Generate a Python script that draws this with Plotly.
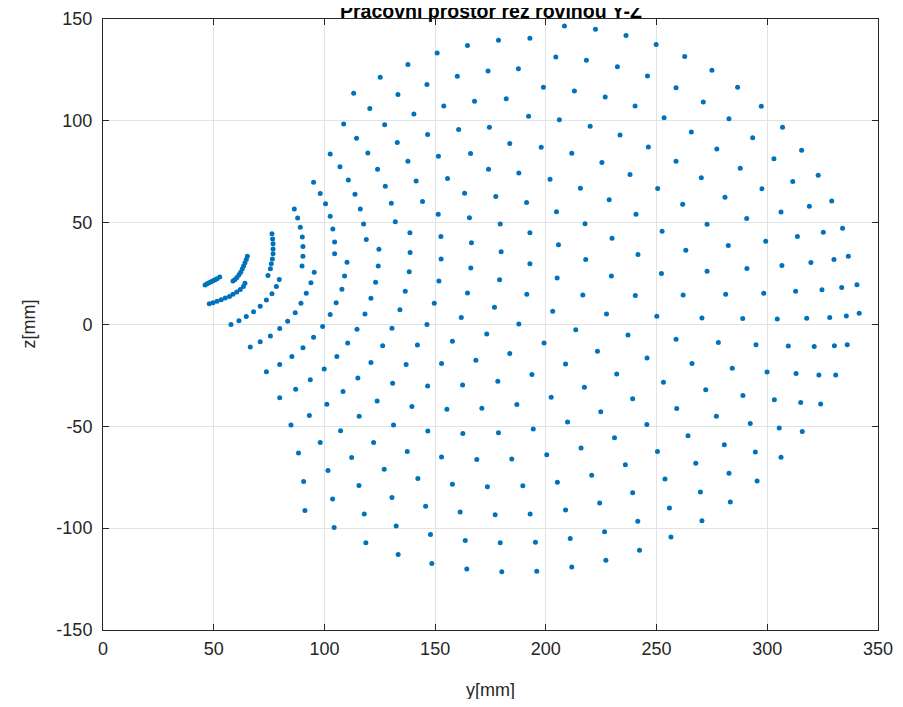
import plotly.graph_objects as go

# workspace points: y [mm]
y_mm = [
    113.2, 108.7, 114.5, 102.6, 107.0, 95.1, 110.8, 98.1, 113.8, 100.5,
    150.9, 164.6, 178.6, 137.7, 125.2, 146.3, 160.0, 173.9, 187.6, 133.2, 120.5, 140.4, 153.9, 167.8, 182.1,
    127.2, 160.6, 174.5, 146.6, 132.9, 183.7, 119.6, 166.0, 137.7, 151.5, 124.0, 174.1, 187.8, 141.4, 155.6,
    127.5, 163.3, 177.4, 144.3, 130.2,
    208.4, 222.4, 192.8, 236.2, 249.8, 204.5, 218.3, 232.3, 245.9, 198.9, 212.9, 226.8, 258.8, 240.3, 192.2,
    206.1, 253.4, 220.0, 233.5, 197.9, 246.3, 211.7, 225.3, 258.8, 201.9, 238.0, 215.6, 250.5, 191.3, 228.6,
    262.7, 275.0, 286.6, 271.1, 297.3, 282.7, 265.7, 306.9, 293.4, 277.2, 315.5, 303.0, 287.8, 323.0, 270.2,
    311.5, 297.6, 280.9, 329.1, 261.8,
    46.1, 47.0, 47.9, 48.8, 49.7, 50.6, 51.5, 52.7,
    58.7, 59.6, 60.5, 61.4, 62.2, 62.9, 63.5, 64.1, 64.7, 65.2,
    48.0, 49.7, 51.5, 53.4, 55.2, 57.1, 58.7, 60.4, 62.0, 63.4, 64.1,
    76.3, 76.6, 76.8, 76.8, 76.8, 76.5, 76.0, 75.6, 74.5,
    79.6, 78.3, 76.3, 73.8, 71.0, 68.0, 64.7, 61.4, 57.8,
    86.4, 87.9, 89.1, 90.0, 90.3, 90.3, 89.9,
    95.4, 93.9, 91.8, 89.4, 86.8, 83.4, 79.8, 75.6, 71.0, 66.5,
    102.6, 103.8, 104.6, 104.6,
    110.2, 109.1, 107.9, 105.3, 102.6, 99.2, 95.1, 90.3, 85.3, 79.8, 73.8,
    114.7, 110.5, 105.6, 99.9, 93.6, 87.0, 115.1, 108.4,
    116.2, 151.4, 165.5, 117.7, 132.0, 179.4, 138.6, 152.6, 118.9, 166.4, 124.6, 138.7, 179.8, 152.7, 124.3,
    166.1, 138.3, 123.1, 151.7, 179.1, 136.5, 164.6, 121.0, 149.6, 176.8, 134.1, 118.3, 161.8, 146.3, 130.5,
    187.8, 173.3, 126.3, 142.0, 157.8, 183.7, 121.0, 136.9, 152.9, 168.4, 130.8, 146.6, 162.4, 178.3,
    204.8, 240.7, 217.7, 192.8, 252.5, 229.9, 205.7, 241.6, 218.0, 192.8, 229.6, 252.2, 205.1, 191.4, 216.7,
    240.4, 203.1, 227.4, 250.1, 213.5, 237.1, 258.8, 199.2, 223.3, 245.7, 208.9, 193.7, 232.0, 253.1, 217.4,
    290.7, 306.2, 319.0, 272.8, 299.3, 313.6, 325.3, 334.0, 263.2, 282.4, 319.7, 330.1, 336.6, 272.8, 290.8,
    306.6, 262.0, 281.2, 298.4, 312.8, 324.7, 333.6, 270.5, 288.9, 304.5, 317.8, 328.2, 335.7, 277.9, 294.9,
    309.5, 321.2, 330.3, 336.1, 266.0, 284.2, 299.9, 313.0, 323.3, 330.9, 272.2,
    340.5, 341.5,
    79.8, 101.1, 93.2, 84.9, 107.3, 98.1, 88.3, 112.3, 101.6, 90.6, 103.7, 91.2, 104.4,
    115.7, 115.6, 123.8, 139.5, 155.3, 171.1, 186.9, 131.2, 146.7, 162.5, 178.6, 122.2, 137.4, 152.9, 168.8,
    184.6, 127.0, 142.2, 157.8, 173.6, 130.5, 145.7, 161.3, 177.1, 118.0, 132.4, 147.9, 163.6, 179.4, 118.7,
    133.3, 148.5, 164.3, 180.1,
    202.4, 239.2, 224.8, 259.1, 209.8, 245.6, 194.3, 231.0, 215.9, 250.4, 200.4, 235.9, 220.7, 253.8, 189.6,
    205.2, 239.2, 224.3, 255.8, 208.9, 192.9, 241.5, 226.5, 256.5, 195.3, 211.0, 242.3, 227.1, 211.7, 195.9,
    289.0, 303.2, 315.1, 324.1, 277.0, 292.3, 305.4, 315.8, 264.2, 280.6, 294.6, 306.2, 267.7, 282.7, 295.4,
    269.8, 283.3, 270.5,
]

# workspace points: z [mm]
z_mm = [
    113.5, 98.4, 91.4, 83.7, 77.5, 69.9, 70.9, 64.3, 63.9, 59.3,
    133.3, 137.0, 139.6, 127.7, 121.4, 117.9, 121.9, 124.5, 125.6, 112.9, 106.0, 103.3, 107.3, 109.6, 110.9,
    98.1, 95.8, 96.9, 93.3, 89.4, 88.9, 84.2, 83.9, 80.1, 82.6, 76.2, 76.2, 74.4, 70.5, 71.7,
    67.9, 64.5, 62.9, 60.4, 59.5,
    146.6, 145.0, 140.6, 141.9, 137.5, 131.3, 129.7, 126.6, 122.0, 116.5, 114.7, 111.7, 116.3, 107.3, 102.3,
    100.5, 101.5, 97.4, 93.0, 87.0, 87.1, 84.1, 79.5, 80.1, 71.3, 73.6, 66.9, 66.8, 59.9, 61.2,
    131.6, 124.8, 116.5, 109.3, 107.2, 101.0, 94.5, 96.8, 91.7, 86.2, 85.5, 81.4, 76.7, 73.3, 72.0,
    70.2, 66.6, 62.5, 60.6, 59.1,
    19.4, 20.0, 20.5, 21.0, 21.5, 22.0, 22.5, 23.3,
    21.3, 22.1, 23.1, 24.4, 25.7, 27.2, 28.7, 30.3, 31.9, 33.5,
    10.2, 10.7, 11.4, 12.2, 13.0, 13.8, 14.8, 15.9, 17.2, 18.7, 20.2,
    44.5, 42.0, 39.6, 37.1, 34.7, 32.2, 29.8, 27.4, 24.1,
    22.1, 18.6, 15.1, 12.0, 8.9, 6.3, 3.9, 1.8, 0.0,
    56.7, 52.3, 47.7, 43.0, 38.3, 33.5, 28.7,
    25.7, 20.5, 15.3, 10.4, 5.8, 1.6, -2.0, -5.6, -8.5, -11.1,
    53.1, 46.9, 40.5, 34.7,
    30.6, 23.8, 17.3, 10.7, 4.9, -1.0, -6.2, -11.4, -15.7, -19.7, -23.2,
    -2.3, -9.1, -15.7, -21.8, -27.1, -31.8, -26.3, -32.9,
    56.7, 54.1, 52.4, 49.4, 50.5, 49.4, 45.0, 43.2, 41.7, 40.1, 37.0, 35.3, 35.7, 32.2, 28.7,
    27.7, 25.9, 20.8, 21.3, 22.0, 16.3, 15.5, 12.9, 10.4, 8.5, 7.2, 5.2, 3.4, 0.0, -1.8,
    0.2, -4.7, -10.4, -10.1, -8.2, -14.2, -18.6, -19.7, -19.2, -17.6, -28.9, -30.2, -29.7, -27.9,
    55.4, 54.1, 49.5, 45.0, 45.8, 42.3, 39.2, 34.4, 31.9, 29.8, 23.8, 25.1, 22.8, 14.8, 14.5,
    14.3, 6.5, 5.2, 4.1, -2.6, -5.2, -7.2, -9.1, -13.1, -16.5, -19.4, -24.5, -24.3, -28.4, -30.8,
    52.1, 55.2, 58.0, 49.2, 40.9, 43.2, 45.3, 47.2, 36.5, 38.8, 30.4, 31.9, 33.5, 26.2, 27.5,
    29.0, 14.5, 14.8, 15.3, 16.3, 17.1, 18.2, 3.2, 2.9, 2.7, 3.1, 3.4, 4.2, -8.8, -10.0,
    -10.6, -10.8, -10.4, -10.0, -19.2, -21.5, -23.3, -24.1, -24.8, -24.8, -32.0,
    19.5, 5.5,
    -36.0, -39.1, -44.7, -49.4, -52.2, -57.9, -63.1, -65.3, -71.7, -77.1, -85.7, -91.3, -99.7,
    -45.1, -79.0, -37.5, -40.3, -41.6, -41.1, -39.3, -49.4, -52.3, -53.5, -53.1, -57.9, -62.3, -65.0, -66.3,
    -66.0, -71.1, -75.6, -78.4, -79.7, -84.9, -89.3, -92.1, -93.4, -93.0, -98.9, -103.1, -106.1, -107.2, -107.1,
    -112.9, -117.3, -120.1, -121.4,
    -35.7, -36.5, -42.9, -41.2, -47.9, -49.1, -51.3, -55.6, -60.6, -62.3, -64.0, -68.9, -74.0, -75.9, -79.2,
    -77.4, -82.6, -87.7, -90.1, -91.1, -93.0, -96.6, -101.7, -104.3, -106.9, -105.1, -110.8, -115.7, -119.1, -121.1,
    -34.9, -37.0, -38.3, -39.0, -45.1, -48.6, -50.8, -52.5, -54.6, -59.0, -62.6, -65.2, -68.1, -73.0, -76.8,
    -82.3, -87.2, -96.3,
]

x_ticks = [0, 50, 100, 150, 200, 250, 300, 350]
z_ticks = [-150, -100, -50, 0, 50, 100, 150]

fig = go.Figure(go.Scatter(
    x=y_mm, y=z_mm, mode='markers',
    marker=dict(size=5, color='#0072BD', line=dict(width=0)),
    hoverinfo='skip'))

axis_common = dict(
    ticks='inside', ticklen=6, tickcolor='#262626', tickwidth=1,
    showline=True, linecolor='#262626', linewidth=1, mirror='ticks',
    showgrid=True, gridcolor='#e3e3e3', gridwidth=1, zeroline=False,
    tickfont=dict(size=18, color='#262626'), automargin=False,
)

fig.update_xaxes(range=[0, 350], tickvals=x_ticks, ticktext=[str(v) for v in x_ticks],
                 ticklabelstandoff=2, **axis_common)
fig.update_yaxes(range=[-150, 150], tickvals=z_ticks, ticktext=[str(v) for v in z_ticks],
                 ticklabelstandoff=6, **axis_common)

fig.update_layout(
    width=887, height=691,
    margin=dict(l=95, r=17, t=11, b=69, autoexpand=False),
    plot_bgcolor='white', paper_bgcolor='white', showlegend=False,
    font=dict(family='Liberation Sans, Arial, sans-serif', color='#262626'),
    annotations=[
        dict(text='<b>Pracovní prostor řez rovinou Y-Z</b>', xref='paper', yref='paper',
             x=0.5, y=1.0, yshift=8, xanchor='center', yanchor='middle', showarrow=False,
             font=dict(size=19.5, color='#000000')),
        dict(text='y[mm]', xref='paper', yref='paper', x=0.5, y=0.0, yshift=-60,
             xanchor='center', yanchor='middle', showarrow=False,
             font=dict(size=18, color='#262626')),
        dict(text='z[mm]', xref='paper', yref='paper', x=0.0, y=0.5, xshift=-75,
             xanchor='center', yanchor='middle', showarrow=False, textangle=-90,
             font=dict(size=18, color='#262626')),
    ],
)

fig.write_html('out.html')
